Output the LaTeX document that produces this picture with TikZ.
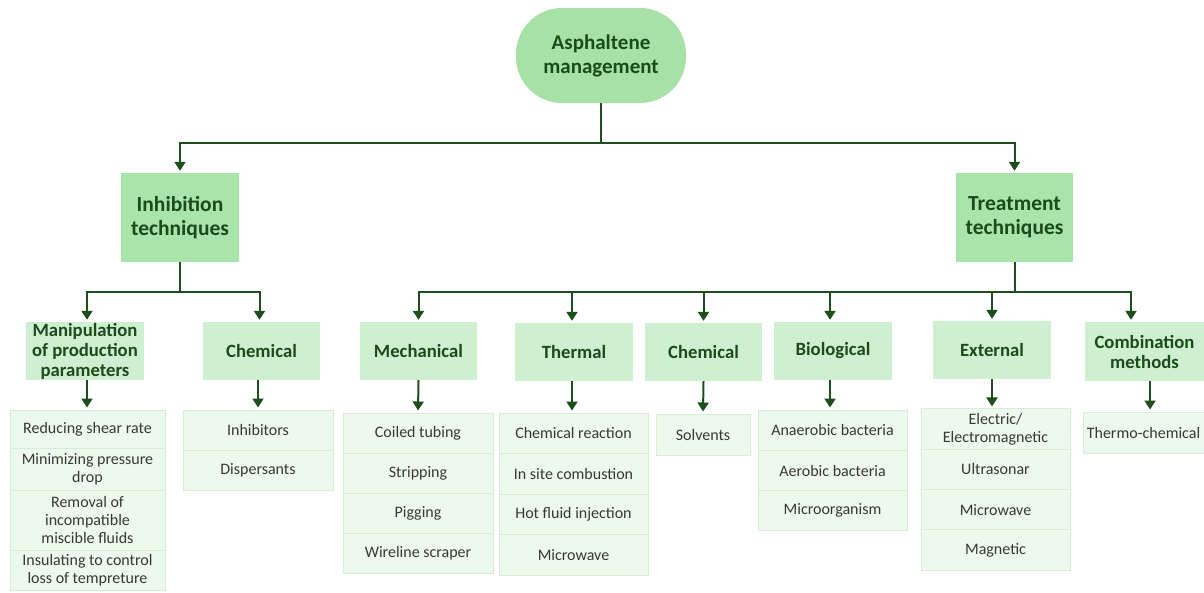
\documentclass[tikz,border=0pt]{standalone}
\usepackage{fontspec}
\setmainfont{Carlito}
\usetikzlibrary{arrows.meta}
\definecolor{rootfill}{HTML}{A6E2A6}
\definecolor{topfill}{HTML}{A9E4AB}
\definecolor{subfill}{HTML}{CFEFD1}
\definecolor{itemfill}{HTML}{ECF9EC}
\definecolor{itemline}{HTML}{D6EDD6}
\definecolor{headtext}{HTML}{1B4A1B}
\definecolor{itemtext}{HTML}{383838}
\definecolor{arrowcol}{HTML}{1E4D1E}
\tikzset{
  rootbox/.style={rectangle, rounded corners=46pt, fill=rootfill, minimum width=170pt, minimum height=95pt,
    text=headtext, align=center, font=\fontsize{21}{24}\selectfont\bfseries, inner sep=2pt},
  topbox/.style={rectangle, fill=topfill, minimum width=118pt, minimum height=89pt,
    text=headtext, align=center, font=\fontsize{21.5}{24}\selectfont\bfseries, inner sep=2pt},
  subbox/.style={rectangle, fill=subfill, minimum width=118pt, minimum height=58pt,
    text=headtext, align=center, font=\fontsize{18.7}{20}\selectfont\bfseries, inner sep=1pt},
  itembox/.style={rectangle, fill=itemfill, draw=itemline, line width=1pt, align=center,
    text=itemtext, font=\fontsize{16}{18}\selectfont, inner sep=1pt},
  conn/.style={draw=arrowcol, line width=2pt},
  arr/.style={conn, -{Triangle[width=11pt,length=9pt]}, shorten >=2pt}
}
\begin{document}
\begin{tikzpicture}[x=1pt,y=-1pt]
\useasboundingbox[fill=white] (0,0) rectangle (1204,592);
% root and top level
\node[rootbox] (root) at (601,55.5) {Asphaltene\\management};
\node[topbox] (inh) at (180,217.5) {Inhibition\\techniques};
\node[topbox, minimum width=117pt] (tre) at (1014.5,217.5) {Treatment\\techniques};
% sub level
\node[subbox] (manip) at (85,351) {Manipulation\\of production\\parameters};
\node[subbox, minimum width=117pt] (chemL) at (261.5,351) {Chemical};
\node[subbox, minimum width=117pt] (mech) at (418.5,351) {Mechanical};
\node[subbox] (therm) at (574,352) {Thermal};
\node[subbox, minimum width=117pt] (chemR) at (703.5,352) {Chemical};
\node[subbox] (bio) at (833,351) {Biological};
\node[subbox] (ext) at (992,350) {External};
\node[subbox, minimum width=119pt, minimum height=59pt] (comb) at (1144.5,351.5) {Combination\\methods};
% item lists
\node[itembox, minimum width=155pt, minimum height=38pt] (m1) at (87.5,429) {Reducing shear rate};
\node[itembox, minimum width=155pt, minimum height=42pt] (m2) at (87.5,469) {Minimizing pressure\\drop};
\node[itembox, minimum width=155pt, minimum height=60pt] (m3) at (87.5,520) {Removal of\\incompatible\\miscible fluids};
\node[itembox, minimum width=155pt, minimum height=40pt] (m4) at (87.5,570) {Insulating to control\\loss of tempreture};
\node[itembox, minimum width=150pt, minimum height=40pt] (c1) at (258,430) {Inhibitors};
\node[itembox, minimum width=150pt, minimum height=40pt] (c2) at (258,470) {Dispersants};
\node[itembox, minimum width=150pt, minimum height=40pt] (me1) at (418,433) {Coiled tubing};
\node[itembox, minimum width=150pt, minimum height=40pt] (me2) at (418,473) {Stripping};
\node[itembox, minimum width=150pt, minimum height=40pt] (me3) at (418,513) {Pigging};
\node[itembox, minimum width=150pt, minimum height=40pt] (me4) at (418,553) {Wireline scraper};
\node[itembox, minimum width=149pt, minimum height=40.5pt] (t1) at (573.5,433.25) {Chemical reaction};
\node[itembox, minimum width=149pt, minimum height=40.5pt] (t2) at (573.5,473.75) {In site combustion};
\node[itembox, minimum width=149pt, minimum height=40.5pt] (t3) at (573.5,514.25) {Hot fluid injection};
\node[itembox, minimum width=149pt, minimum height=40.5pt] (t4) at (573.5,554.75) {Microwave};
\node[itembox, minimum width=94pt, minimum height=41pt] (s1) at (703,434.5) {Solvents};
\node[itembox, minimum width=149pt, minimum height=40.3pt] (b1) at (832.5,430.2) {Anaerobic bacteria};
\node[itembox, minimum width=149pt, minimum height=40.3pt] (b2) at (832.5,470.5) {Aerobic bacteria};
\node[itembox, minimum width=149pt, minimum height=40.3pt] (b3) at (832.5,510.8) {Microorganism};
\node[itembox, minimum width=149pt, minimum height=40.25pt] (e1) at (995.5,429.1) {Electric/\\Electromagnetic};
\node[itembox, minimum width=149pt, minimum height=40.25pt] (e2) at (995.5,469.4) {Ultrasonar};
\node[itembox, minimum width=149pt, minimum height=40.25pt] (e3) at (995.5,509.6) {Microwave};
\node[itembox, minimum width=149pt, minimum height=40.25pt] (e4) at (995.5,549.9) {Magnetic};
\node[itembox, minimum width=121pt, minimum height=41pt] (k1) at (1143.5,432.5) {Thermo-chemical};
% connectors top
\coordinate (j1) at (601,143);
\draw[conn] (root.south) -- (j1);
\draw[arr] (j1) -| (inh.north);
\draw[arr] (j1) -| (tre.north);
% inhibition branch
\coordinate (j2) at (180,292);
\draw[conn] (inh.south) -- (j2);
\draw[arr] (j2) -| ([xshift=2pt]manip.north);
\draw[arr] (j2) -| ([xshift=-2pt]chemL.north);
% treatment branch
\coordinate (j3) at (1014.5,292);
\draw[conn] (tre.south) -- (j3);
\draw[arr] (j3) -| (mech.north);
\draw[arr] (j3) -| ([xshift=-2pt]therm.north);
\draw[arr] (j3) -| (chemR.north);
\draw[arr] (j3) -| ([xshift=-3pt]bio.north);
\draw[arr] (j3) -| (ext.north);
\draw[arr] (j3) -| ([xshift=-13.5pt]comb.north);
% sub to lists
\draw[arr] ([xshift=2pt]manip.south) -- ([xshift=-0.5pt]m1.north);
\draw[arr] ([xshift=-3.5pt]chemL.south) -- (c1.north);
\draw[arr] (mech.south) -- (me1.north);
\draw[arr] ([xshift=-2pt]therm.south) -- ([xshift=-1.5pt]t1.north);
\draw[arr] (chemR.south) -- (s1.north);
\draw[arr] ([xshift=-3pt]bio.south) -- ([xshift=-2.5pt]b1.north);
\draw[arr] (ext.south) -- ([xshift=-3.5pt]e1.north);
\draw[arr] ([xshift=5.5pt]comb.south) -- ([xshift=6.5pt]k1.north);
\end{tikzpicture}
\end{document}
